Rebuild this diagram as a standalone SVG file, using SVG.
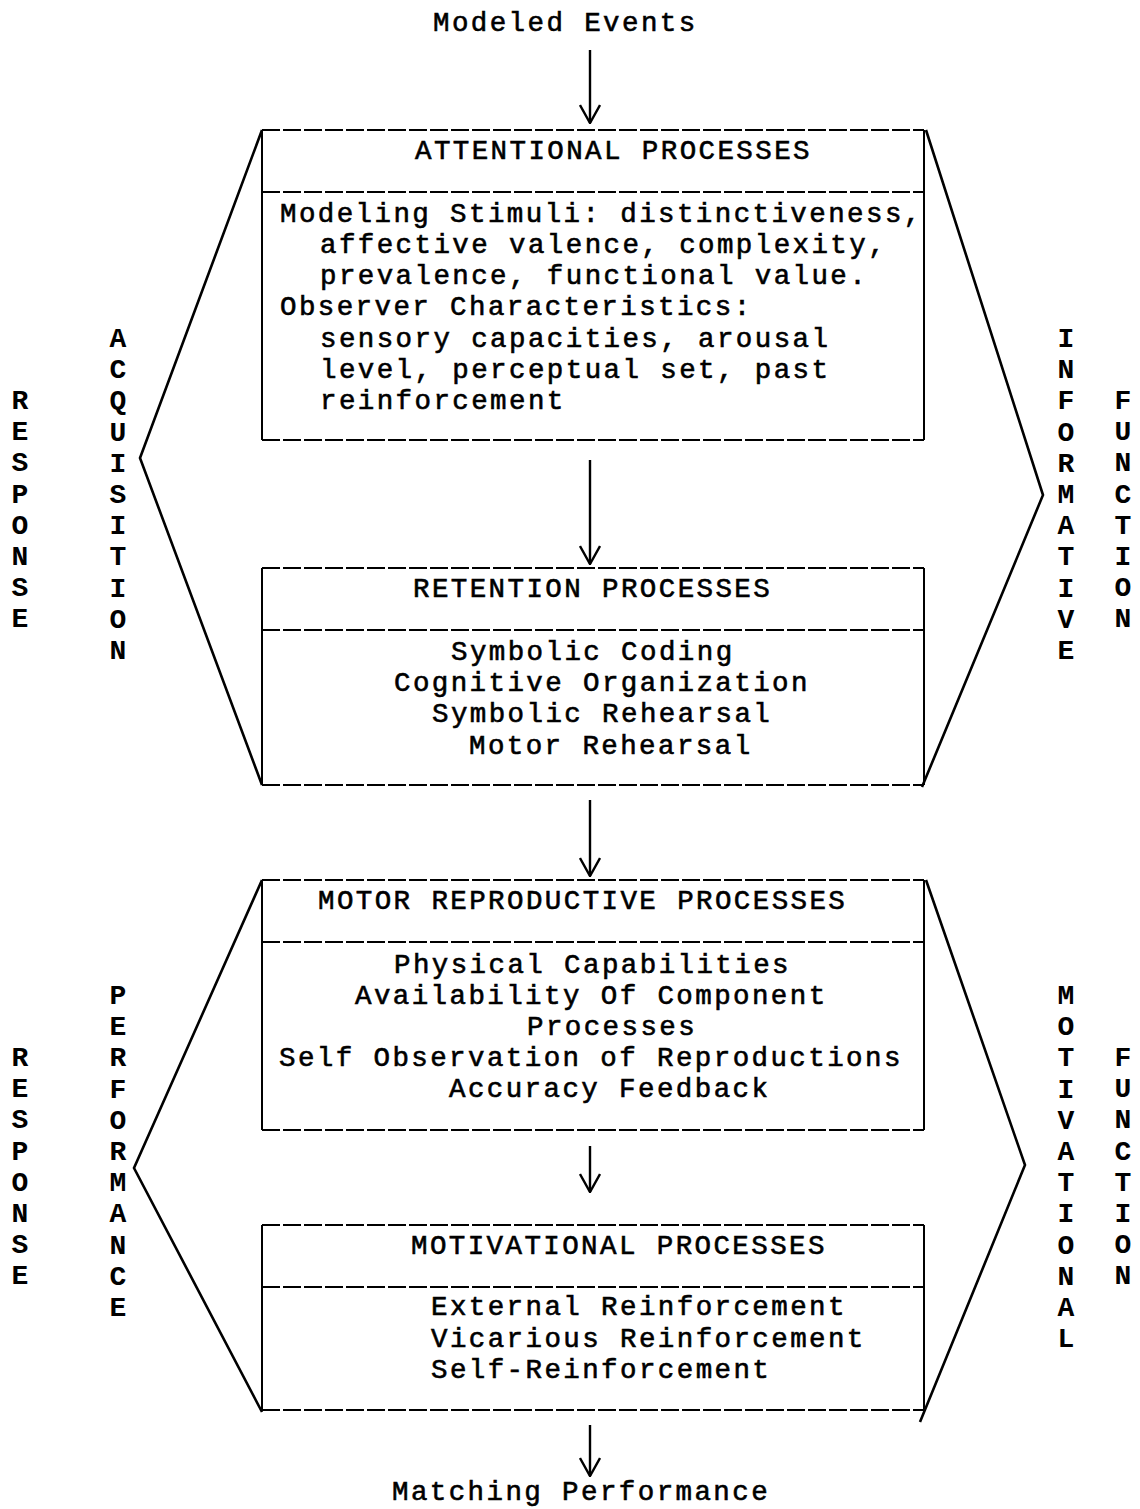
<svg xmlns="http://www.w3.org/2000/svg" width="1140" height="1509" viewBox="0 0 1140 1509">
<defs>
<style>
.t{font-family:"Liberation Mono","Courier New",monospace;font-size:27.5px;letter-spacing:2.4px;fill:#000;stroke:#000;stroke-width:0.6px}
.v{font-family:"Liberation Mono","Courier New",monospace;font-size:28px;font-weight:bold;fill:#000;text-anchor:middle}
.side{fill:none;stroke:#000;stroke-width:2}
.hl{fill:none;stroke:#000;stroke-width:2;stroke-dasharray:18 3}
.chev{fill:none;stroke:#000;stroke-width:2.6;stroke-linejoin:miter}
.arr{fill:none;stroke:#000;stroke-width:2.4}
</style>
<marker id="ah" markerWidth="20" markerHeight="22" refX="19" refY="11" orient="auto" markerUnits="userSpaceOnUse" viewBox="0 0 20 22">
<polyline points="1,1 19,11 1,21" fill="none" stroke="#000" stroke-width="2.4"/>
</marker>
</defs>
<rect width="1140" height="1509" fill="#fff"/>

<g id="modeled-events">
<text class="t" x="433" y="31">Modeled Events</text>
</g>

<g id="attentional">
<line class="hl" x1="262" y1="130" x2="924" y2="130"/>
<line class="hl" x1="262" y1="440" x2="924" y2="440"/>
<line class="hl" x1="262" y1="192" x2="924" y2="192"/>
<line class="side" x1="262" y1="130" x2="262" y2="440"/>
<line class="side" x1="924" y1="130" x2="924" y2="440"/>
<text class="t" x="415" y="159">ATTENTIONAL PROCESSES</text>
<text class="t" x="280" y="222">Modeling Stimuli: distinctiveness,</text>
<text class="t" x="320" y="253">affective valence, complexity,</text>
<text class="t" x="320" y="284">prevalence, functional value.</text>
<text class="t" x="280" y="315">Observer Characteristics:</text>
<text class="t" x="320" y="347">sensory capacities, arousal</text>
<text class="t" x="320" y="378">level, perceptual set, past</text>
<text class="t" x="320" y="409">reinforcement</text>
</g>

<g id="retention">
<line class="hl" x1="262" y1="568" x2="924" y2="568"/>
<line class="hl" x1="262" y1="785" x2="924" y2="785"/>
<line class="hl" x1="262" y1="630" x2="924" y2="630"/>
<line class="side" x1="262" y1="568" x2="262" y2="785"/>
<line class="side" x1="924" y1="568" x2="924" y2="785"/>
<text class="t" x="413" y="597">RETENTION PROCESSES</text>
<text class="t" x="451" y="660">Symbolic Coding</text>
<text class="t" x="394" y="691">Cognitive Organization</text>
<text class="t" x="432" y="722">Symbolic Rehearsal</text>
<text class="t" x="469" y="754">Motor Rehearsal</text>
</g>

<g id="motor-reproductive">
<line class="hl" x1="262" y1="880" x2="924" y2="880"/>
<line class="hl" x1="262" y1="1130" x2="924" y2="1130"/>
<line class="hl" x1="262" y1="942" x2="924" y2="942"/>
<line class="side" x1="262" y1="880" x2="262" y2="1130"/>
<line class="side" x1="924" y1="880" x2="924" y2="1130"/>
<text class="t" x="318" y="909">MOTOR REPRODUCTIVE PROCESSES</text>
<text class="t" x="394" y="973">Physical Capabilities</text>
<text class="t" x="355" y="1004">Availability Of Component</text>
<text class="t" x="527" y="1035">Processes</text>
<text class="t" x="279" y="1066">Self Observation of Reproductions</text>
<text class="t" x="449" y="1097">Accuracy Feedback</text>
</g>

<g id="motivational">
<line class="hl" x1="262" y1="1225" x2="924" y2="1225"/>
<line class="hl" x1="262" y1="1410" x2="924" y2="1410"/>
<line class="hl" x1="262" y1="1287" x2="924" y2="1287"/>
<line class="side" x1="262" y1="1225" x2="262" y2="1410"/>
<line class="side" x1="924" y1="1225" x2="924" y2="1410"/>
<text class="t" x="411" y="1254">MOTIVATIONAL PROCESSES</text>
<text class="t" x="431" y="1315">External Reinforcement</text>
<text class="t" x="431" y="1347">Vicarious Reinforcement</text>
<text class="t" x="431" y="1378">Self-Reinforcement</text>
</g>

<g id="matching-performance">
<text class="t" x="392" y="1500">Matching Performance</text>
</g>

<g id="brackets">
<polyline class="chev" points="262,130 140,458 262,785"/>
<polyline class="chev" points="926,130 1043,495 922,787"/>
<polyline class="chev" points="262,880 134,1168 262,1412"/>
<polyline class="chev" points="926,880 1025,1165 920,1422"/>
</g>

<g id="side-labels">
<text class="v"><tspan x="20" y="409">R</tspan><tspan x="20" dy="31.2">E</tspan><tspan x="20" dy="31.2">S</tspan><tspan x="20" dy="31.2">P</tspan><tspan x="20" dy="31.2">O</tspan><tspan x="20" dy="31.2">N</tspan><tspan x="20" dy="31.2">S</tspan><tspan x="20" dy="31.2">E</tspan></text>
<text class="v"><tspan x="118" y="347">A</tspan><tspan x="118" dy="31.2">C</tspan><tspan x="118" dy="31.2">Q</tspan><tspan x="118" dy="31.2">U</tspan><tspan x="118" dy="31.2">I</tspan><tspan x="118" dy="31.2">S</tspan><tspan x="118" dy="31.2">I</tspan><tspan x="118" dy="31.2">T</tspan><tspan x="118" dy="31.2">I</tspan><tspan x="118" dy="31.2">O</tspan><tspan x="118" dy="31.2">N</tspan></text>
<text class="v"><tspan x="1066" y="347">I</tspan><tspan x="1066" dy="31.2">N</tspan><tspan x="1066" dy="31.2">F</tspan><tspan x="1066" dy="31.2">O</tspan><tspan x="1066" dy="31.2">R</tspan><tspan x="1066" dy="31.2">M</tspan><tspan x="1066" dy="31.2">A</tspan><tspan x="1066" dy="31.2">T</tspan><tspan x="1066" dy="31.2">I</tspan><tspan x="1066" dy="31.2">V</tspan><tspan x="1066" dy="31.2">E</tspan></text>
<text class="v"><tspan x="1123" y="409">F</tspan><tspan x="1123" dy="31.2">U</tspan><tspan x="1123" dy="31.2">N</tspan><tspan x="1123" dy="31.2">C</tspan><tspan x="1123" dy="31.2">T</tspan><tspan x="1123" dy="31.2">I</tspan><tspan x="1123" dy="31.2">O</tspan><tspan x="1123" dy="31.2">N</tspan></text>
<text class="v"><tspan x="20" y="1066">R</tspan><tspan x="20" dy="31.2">E</tspan><tspan x="20" dy="31.2">S</tspan><tspan x="20" dy="31.2">P</tspan><tspan x="20" dy="31.2">O</tspan><tspan x="20" dy="31.2">N</tspan><tspan x="20" dy="31.2">S</tspan><tspan x="20" dy="31.2">E</tspan></text>
<text class="v"><tspan x="118" y="1004">P</tspan><tspan x="118" dy="31.2">E</tspan><tspan x="118" dy="31.2">R</tspan><tspan x="118" dy="31.2">F</tspan><tspan x="118" dy="31.2">O</tspan><tspan x="118" dy="31.2">R</tspan><tspan x="118" dy="31.2">M</tspan><tspan x="118" dy="31.2">A</tspan><tspan x="118" dy="31.2">N</tspan><tspan x="118" dy="31.2">C</tspan><tspan x="118" dy="31.2">E</tspan></text>
<text class="v"><tspan x="1066" y="1004">M</tspan><tspan x="1066" dy="31.2">O</tspan><tspan x="1066" dy="31.2">T</tspan><tspan x="1066" dy="31.2">I</tspan><tspan x="1066" dy="31.2">V</tspan><tspan x="1066" dy="31.2">A</tspan><tspan x="1066" dy="31.2">T</tspan><tspan x="1066" dy="31.2">I</tspan><tspan x="1066" dy="31.2">O</tspan><tspan x="1066" dy="31.2">N</tspan><tspan x="1066" dy="31.2">A</tspan><tspan x="1066" dy="31.2">L</tspan></text>
<text class="v"><tspan x="1123" y="1066">F</tspan><tspan x="1123" dy="31.2">U</tspan><tspan x="1123" dy="31.2">N</tspan><tspan x="1123" dy="31.2">C</tspan><tspan x="1123" dy="31.2">T</tspan><tspan x="1123" dy="31.2">I</tspan><tspan x="1123" dy="31.2">O</tspan><tspan x="1123" dy="31.2">N</tspan></text>
</g>

<g id="connectors">
<line class="arr" x1="590" y1="50" x2="590" y2="123" marker-end="url(#ah)"/>
<line class="arr" x1="590" y1="460" x2="590" y2="564" marker-end="url(#ah)"/>
<line class="arr" x1="590" y1="800" x2="590" y2="876" marker-end="url(#ah)"/>
<line class="arr" x1="590" y1="1146" x2="590" y2="1192" marker-end="url(#ah)"/>
<line class="arr" x1="590" y1="1425" x2="590" y2="1476" marker-end="url(#ah)"/>
</g>
</svg>
